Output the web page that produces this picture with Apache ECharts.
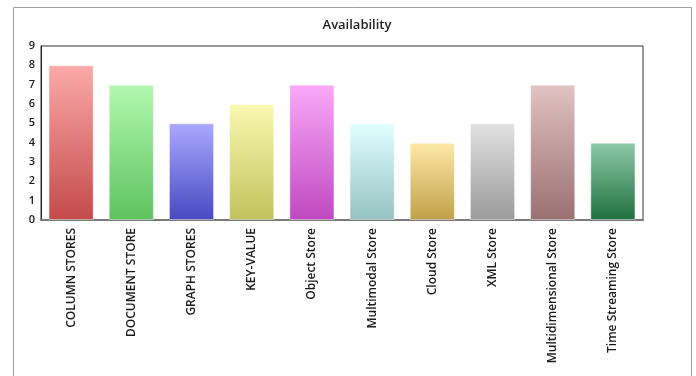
<!DOCTYPE html>
<html>
<head>
<meta charset="utf-8">
<script src="https://cdn.jsdelivr.net/npm/echarts@6/dist/echarts.min.js"></script>
<style>
  html, body { margin: 0; padding: 0; background: #fff; }
  #chart { width: 696px; height: 376px; }
</style>
</head>
<body>
<div id="chart"></div>
<script>
// Store categories and their availability scores
const categories = [
  'COLUMN STORES', 'DOCUMENT STORE', 'GRAPH STORES', 'KEY-VALUE', 'Object Store',
  'Multimodal Store', 'Cloud Store', 'XML Store', 'Multidimensional Store', 'Time Streaming Store'
];
const availability = [8, 7, 5, 6, 7, 5, 4, 5, 7, 4];
const yTicks = [0, 1, 2, 3, 4, 5, 6, 7, 8, 9];

// Gradient pairs (top, bottom) for each bar
const topColors = ['#fba9a9', '#b2f9b0', '#a9a9ff', '#f9f9b1', '#f9a9f9', '#e0ffff', '#ffe8a8', '#e2e2e2', '#e2c2c2', '#8ecaa8'];
const bottomColors = ['#c44a4a', '#5ec25e', '#4848c2', '#c2c25c', '#c048c0', '#96c2c2', '#c0a048', '#9a9a9a', '#9a7070', '#1f7040'];

const chart = echarts.init(document.getElementById('chart'));

const grid = { left: 41, top: 46, right: 53, bottom: 156 };

chart.setOption({
  animation: false,
  title: {
    text: 'Availability',
    left: 352,
    textAlign: 'center',
    top: 14,
    textStyle: { fontFamily: 'Open Sans', fontSize: 13, fontWeight: 600, color: '#222' }
  },
  graphic: [
    {
      type: 'rect',
      shape: { x: 13.5, y: 7.5, width: 678, height: 380 },
      style: { fill: 'none', stroke: '#a0a0a0', lineWidth: 1 },
      silent: true,
      z: -1
    }
  ],
  grid: Object.assign({ show: true, borderColor: '#333', borderWidth: 1 }, grid),
  xAxis: {
    type: 'category',
    data: categories,
    axisLine: { lineStyle: { color: '#7a7a7a', width: 2 } },
    axisTick: { show: false },
    axisLabel: {
      rotate: 90,
      interval: 0,
      margin: 8,
      fontFamily: 'Open Sans',
      fontSize: 12,
      fontWeight: 600,
      color: '#1a1a1a'
    }
  },
  yAxis: {
    type: 'value',
    min: yTicks[0],
    max: yTicks[yTicks.length - 1],
    interval: 1,
    splitLine: { show: false },
    axisLine: { show: true, lineStyle: { color: '#222', width: 1 } },
    axisTick: { show: false },
    axisLabel: {
      margin: 6,
      fontFamily: 'Open Sans',
      fontSize: 11,
      fontWeight: 600,
      color: '#1a1a1a'
    }
  },
  series: [{
    type: 'bar',
    barWidth: '75%',
    data: availability.map((v, i) => ({
      value: v,
      itemStyle: {
        color: new echarts.graphic.LinearGradient(0, 0, 0, 1, [
          { offset: 0, color: topColors[i] },
          { offset: 1, color: bottomColors[i] }
        ]),
        borderColor: 'rgba(255,255,255,0.45)',
        borderWidth: 1
      }
    }))
  }]
});
</script>
</body>
</html>
